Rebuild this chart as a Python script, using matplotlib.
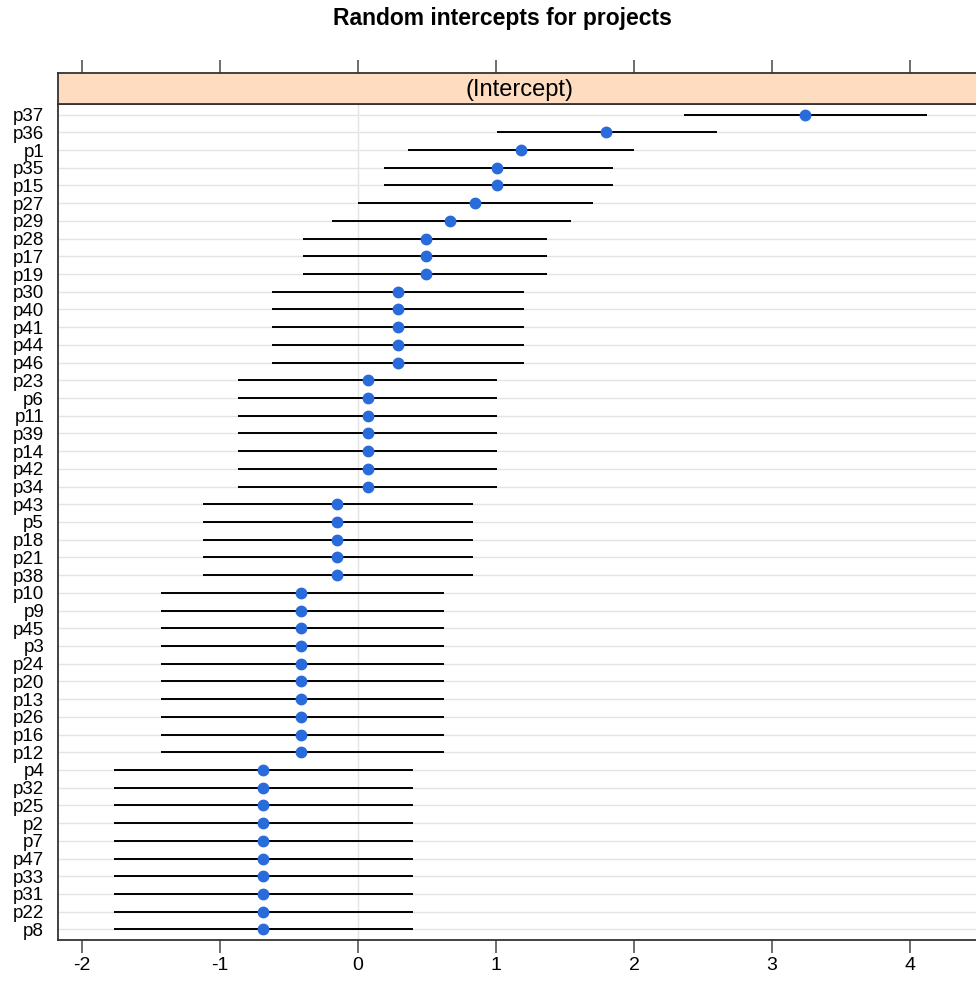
import numpy as np
import matplotlib.pyplot as plt

plt.rcParams['font.family'] = ['Liberation Sans', 'DejaVu Sans']

# projects ordered top to bottom
projects = ['p37', 'p36', 'p1', 'p35', 'p15', 'p27', 'p29', 'p28', 'p17', 'p19',
            'p30', 'p40', 'p41', 'p44', 'p46',
            'p23', 'p6', 'p11', 'p39', 'p14', 'p42', 'p34',
            'p43', 'p5', 'p18', 'p21', 'p38',
            'p10', 'p9', 'p45', 'p3', 'p24', 'p20', 'p13', 'p26', 'p16', 'p12',
            'p4', 'p32', 'p25', 'p2', 'p7', 'p47', 'p33', 'p31', 'p22', 'p8']

estimate = [3.24, 1.80, 1.18, 1.01, 1.01, 0.85, 0.67, 0.49, 0.49, 0.49,
            0.29, 0.29, 0.29, 0.29, 0.29,
            0.07, 0.07, 0.07, 0.07, 0.07, 0.07, 0.07,
            -0.15, -0.15, -0.15, -0.15, -0.15,
            -0.41, -0.41, -0.41, -0.41, -0.41, -0.41, -0.41, -0.41, -0.41, -0.41,
            -0.69, -0.69, -0.69, -0.69, -0.69, -0.69, -0.69, -0.69, -0.69, -0.69]

lower = [2.36, 1.01, 0.36, 0.19, 0.19, 0.00, -0.19, -0.40, -0.40, -0.40,
         -0.62, -0.62, -0.62, -0.62, -0.62,
         -0.87, -0.87, -0.87, -0.87, -0.87, -0.87, -0.87,
         -1.12, -1.12, -1.12, -1.12, -1.12,
         -1.43, -1.43, -1.43, -1.43, -1.43, -1.43, -1.43, -1.43, -1.43, -1.43,
         -1.77, -1.77, -1.77, -1.77, -1.77, -1.77, -1.77, -1.77, -1.77, -1.77]

upper = [4.12, 2.60, 2.00, 1.85, 1.85, 1.70, 1.54, 1.37, 1.37, 1.37,
         1.20, 1.20, 1.20, 1.20, 1.20,
         1.01, 1.01, 1.01, 1.01, 1.01, 1.01, 1.01,
         0.83, 0.83, 0.83, 0.83, 0.83,
         0.62, 0.62, 0.62, 0.62, 0.62, 0.62, 0.62, 0.62, 0.62, 0.62,
         0.40, 0.40, 0.40, 0.40, 0.40, 0.40, 0.40, 0.40, 0.40, 0.40]

xticks = [-2, -1, 0, 1, 2, 3, 4]

W, H = 976, 985
fig = plt.figure(figsize=(W / 100, H / 100), dpi=100)

left = 58 / W
xlim = (-2.174, 4.478)
frame_col = '#333333'

ax = fig.add_axes([left, 1 - 940 / H, 1 - left, (940 - 104) / H])
ypos = np.arange(len(projects))[::-1]

for y in ypos:
    ax.axhline(y, color='#e4e4e4', lw=1, zorder=0)
ax.axvline(0, color='#e4e4e4', lw=1, zorder=0)

ax.hlines(ypos, lower, upper, color='black', lw=1.4, zorder=2)
ax.plot(estimate, ypos, 'o', color='#2a6bdc', ms=7.5, zorder=3)

ax.set_xlim(xlim)
ax.set_ylim(-0.6, len(projects) - 0.4)
ax.set_xticks(xticks)
ax.set_xticklabels([str(t) for t in xticks])
ax.set_yticks(ypos)
ax.set_yticklabels(projects, fontsize=13.5)
ax.tick_params(axis='x', direction='out', length=9.5, width=1.2, color='#555555',
               labelsize=14, pad=3)
ax.tick_params(axis='y', length=0, pad=10)
for s in ax.spines.values():
    s.set_color(frame_col)
    s.set_linewidth(1.3)
ax.spines['right'].set_visible(False)

# strip on top
sax = fig.add_axes([left, 1 - 104 / H, 1 - left, 31 / H])
sax.set_facecolor('#fddcc0')
sax.set_xlim(xlim)
sax.set_ylim(0, 1)
sax.set_yticks([])
sax.set_xticks(xticks)
sax.xaxis.tick_top()
sax.tick_params(axis='x', direction='out', length=9.5, width=1.2, color='#555555',
                labeltop=False)
for s in sax.spines.values():
    s.set_color(frame_col)
    s.set_linewidth(1.3)
sax.spines['right'].set_visible(False)
sax.text(1.17, 0.45, '(Intercept)', ha='center', va='center', fontsize=17)

fig.text(0.515, 1 - 18 / H, 'Random intercepts for projects', ha='center', va='center',
         fontsize=16.5, fontweight='bold')

fig.savefig('out.png', dpi=100)
